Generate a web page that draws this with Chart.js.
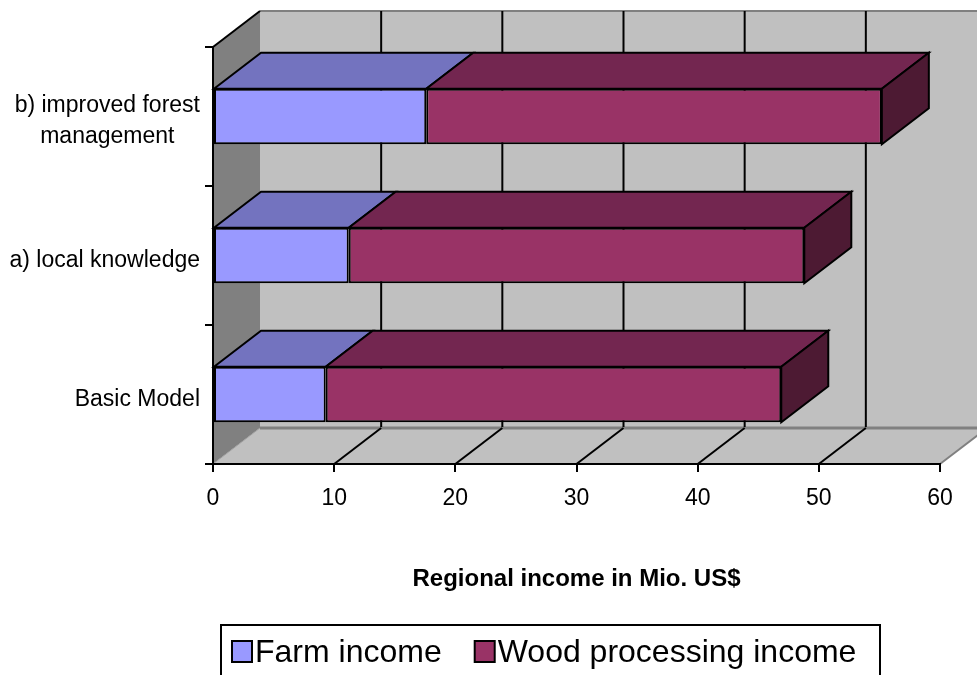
<!DOCTYPE html>
<html>
<head>
<meta charset="utf-8">
<script src="https://cdn.jsdelivr.net/npm/chart.js@4.4.1/dist/chart.umd.min.js"></script>
<style>
  html, body { margin: 0; padding: 0; background: #fff; }
  #wrap { width: 977px; height: 675px; position: relative; }
</style>
</head>
<body>
<div id="wrap"><canvas id="chart"></canvas></div>
<script>
// data (top to bottom)
const categories = [["b) improved forest", "management"], "a) local knowledge", "Basic Model"];
const farmIncome = [17.6, 11.2, 9.3];
const woodIncome = [37.6, 37.6, 37.6];
const xTicks = [0, 10, 20, 30, 40, 50, 60];
const seriesNames = ["Farm income", "Wood processing income"];
const axisTitle = "Regional income in Mio. US$";

const FONT = "'Liberation Sans', Arial, sans-serif";
const FRONT = ["#9999ff", "#993366"];
const TOP = ["#7373bf", "#732650"];
const SIDE = ["#5c5c99", "#4d1a33"];
const DX = 47, DY = 36;   // depth of the 3d box

function poly(ctx, pts, fill, stroke) {
  ctx.beginPath();
  ctx.moveTo(pts[0][0], pts[0][1]);
  for (let i = 1; i < pts.length; i++) ctx.lineTo(pts[i][0], pts[i][1]);
  ctx.closePath();
  if (fill) { ctx.fillStyle = fill; ctx.fill(); }
  if (stroke) { ctx.strokeStyle = stroke; ctx.stroke(); }
}

function line(ctx, x1, y1, x2, y2) {
  ctx.beginPath();
  ctx.moveTo(x1, y1);
  ctx.lineTo(x2, y2);
  ctx.stroke();
}

// walls, floor and gridlines behind the bars
const box3d = {
  id: "box3d",
  beforeDraw(chart) {
    const { ctx, chartArea: a, scales: { x } } = chart;
    const x0 = x.getPixelForValue(xTicks[0]);
    const x1 = x.getPixelForValue(xTicks[xTicks.length - 1]);
    ctx.save();
    ctx.fillStyle = "#c0c0c0";
    ctx.fillRect(x0 + DX, a.top - DY, x1 - x0, a.bottom - a.top);
    poly(ctx, [[x0, a.top], [x0 + DX, a.top - DY], [x0 + DX, a.bottom - DY], [x0, a.bottom]], "#808080");
    poly(ctx, [[x0, a.bottom], [x0 + DX, a.bottom - DY], [x1 + DX, a.bottom - DY], [x1, a.bottom]], "#c0c0c0");

    ctx.strokeStyle = "#808080";
    ctx.lineWidth = 2;
    line(ctx, x0 + DX, a.top - DY, x1 + DX, a.top - DY);
    line(ctx, x1, a.bottom, x1 + DX, a.bottom - DY);
    ctx.strokeStyle = "#a0a0a0";
    ctx.lineWidth = 1;
    line(ctx, x0, a.bottom, x0 + DX, a.bottom - DY);
    ctx.strokeStyle = "#808080";
    ctx.lineWidth = 3;
    line(ctx, x0 + DX, a.bottom - DY, x1 + DX, a.bottom - DY);

    ctx.strokeStyle = "#000";
    ctx.lineWidth = 2;
    xTicks.slice(1, -1).forEach(v => {
      const px = x.getPixelForValue(v);
      line(ctx, px + DX, a.top - DY, px + DX, a.bottom - DY - 1);
      line(ctx, px, a.bottom, px + DX, a.bottom - DY);
    });
    line(ctx, x0, a.top, x0 + DX, a.top - DY);
    ctx.restore();
  },
  afterDatasetsDraw(chart) {
    const ctx = chart.ctx;
    ctx.save();
    ctx.lineWidth = 2;
    ctx.lineJoin = "miter";
    const last = chart.data.datasets.length - 1;
    chart.data.datasets.forEach((ds, i) => {
      chart.getDatasetMeta(i).data.forEach(bar => {
        const { x, y, base, height } = bar.getProps(["x", "y", "base", "height"], true);
        const top = y - height / 2, bottom = y + height / 2;
        poly(ctx, [[base, top], [base + DX, top - DY], [x + DX, top - DY], [x, top]], TOP[i], "#000");
        if (i === last) {
          poly(ctx, [[x, top], [x + DX, top - DY], [x + DX, bottom - DY], [x, bottom]], SIDE[i], "#000");
        }
      });
    });
    ctx.restore();
  },
  afterDraw(chart) {
    const { ctx, chartArea: a, scales: { y } } = chart;
    ctx.save();
    // category labels, block right-aligned, lines centred
    ctx.fillStyle = "#000";
    ctx.font = "23px " + FONT;
    ctx.textAlign = "center";
    ctx.textBaseline = "alphabetic";
    categories.forEach((c, i) => {
      const lines = Array.isArray(c) ? c : [c];
      const w = Math.max(...lines.map(l => ctx.measureText(l).width));
      const cx = a.left - 13 - w / 2;
      const yc = y.getPixelForValue(i);
      lines.forEach((l, j) => {
        ctx.fillText(l, cx, yc + 11 - (lines.length - 1) * 31 / 2 + j * 31);
      });
    });

    // legend in a box
    ctx.textAlign = "left";
    ctx.strokeStyle = "#000";
    ctx.lineWidth = 2;
    ctx.strokeRect(221, 625, 659, 80);
    ctx.font = "32px " + FONT;
    let cx = 232;
    seriesNames.forEach((n, i) => {
      ctx.fillStyle = FRONT[i];
      ctx.fillRect(cx, 641, 20, 21);
      ctx.strokeRect(cx, 641, 20, 21);
      cx += 23;
      ctx.fillStyle = "#000";
      ctx.fillText(n, cx, 662);
      cx += ctx.measureText(n).width + 33;
    });
    ctx.restore();
  }
};

const chart = new Chart(document.getElementById("chart"), {
  type: "bar",
  data: {
    labels: categories,
    datasets: [
      {
        label: seriesNames[0], data: farmIncome,
        backgroundColor: FRONT[0], borderColor: "#000", borderWidth: 2, borderSkipped: false,
        categoryPercentage: 1, barPercentage: 0.4
      },
      {
        label: seriesNames[1], data: woodIncome,
        backgroundColor: FRONT[1], borderColor: "#000", borderWidth: 2, borderSkipped: false,
        categoryPercentage: 1, barPercentage: 0.4
      }
    ]
  },
  options: {
    indexAxis: "y",
    responsive: true,
    maintainAspectRatio: false,
    animation: false,
    layout: { padding: { top: 47, right: 37, left: 0, bottom: 0 } },
    plugins: {
      legend: { display: false },
      tooltip: { enabled: false }
    },
    scales: {
      x: {
        stacked: true,
        min: 0,
        max: 60,
        afterBuildTicks(scale) {
          scale.ticks = xTicks.map(v => ({ value: v }));
        },
        ticks: { color: "#000", font: { family: FONT, size: 23 }, padding: 13, maxRotation: 0 },
        grid: { drawOnChartArea: false, tickLength: 8, color: "#000", lineWidth: 2 },
        border: { display: true, color: "#000", width: 2 },
        title: {
          display: true, text: axisTitle, color: "#000",
          font: { family: FONT, size: 24, weight: "bold" },
          padding: { top: 0, bottom: 81 }
        },
        afterFit(scale) { scale.height = 211; }
      },
      y: {
        stacked: true,
        ticks: { display: false },
        grid: { drawOnChartArea: false, tickLength: 8, color: "#000", lineWidth: 2, offset: true },
        border: { display: true, color: "#000", width: 2 },
        afterFit(scale) { scale.width = 213; }
      }
    }
  },
  plugins: [box3d]
});
</script>
</body>
</html>
